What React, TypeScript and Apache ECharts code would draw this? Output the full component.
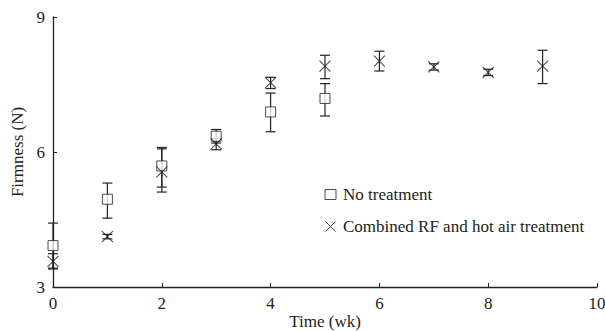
import React, { useEffect, useRef } from "react";
import * as echarts from "echarts";

const weeksNo = [0, 1, 2, 3, 4, 5];
const meanNo = [3.92, 4.95, 5.69, 6.35, 6.89, 7.19];
const lowNo = [3.42, 4.53, 5.22, 6.2, 6.45, 6.8];
const highNo = [4.42, 5.31, 6.1, 6.5, 7.31, 7.52];

const weeksRF = [0, 1, 2, 3, 4, 5, 6, 7, 8, 9];
const meanRF = [3.57, 4.12, 5.56, 6.18, 7.54, 7.91, 8.02, 7.89, 7.77, 7.91];
const lowRF = [3.4, 4.07, 5.11, 6.05, 7.41, 7.63, 7.8, 7.82, 7.7, 7.52];
const highRF = [3.74, 4.17, 6.07, 6.3, 7.66, 8.15, 8.24, 7.96, 7.84, 8.26];

const seriesNames = ["No treatment", "Combined RF and hot air treatment"];
const xTicks = [0, 2, 4, 6, 8, 10];
const yTicks = [3, 6, 9];

const FONT = "'Liberation Serif', 'Times New Roman', serif";
const INK = "#222";
const FS = 17;
const CROSS = "path://M0,0L10,10M10,0L0,10";

function errorBars(weeks: number[], low: number[], high: number[]) {
  return {
    type: "custom",
    silent: true,
    z: 1,
    data: weeks.map((w, i) => [w, low[i], high[i]]),
    renderItem: (_p: any, api: any) => {
      const lo = api.coord([api.value(0), api.value(1)]);
      const hi = api.coord([api.value(0), api.value(2)]);
      const cap = 5;
      const style = { stroke: INK, lineWidth: 1.2 };
      return {
        type: "group",
        children: [
          { type: "line", shape: { x1: lo[0], y1: lo[1], x2: hi[0], y2: hi[1] }, style },
          { type: "line", shape: { x1: lo[0] - cap, y1: lo[1], x2: lo[0] + cap, y2: lo[1] }, style },
          { type: "line", shape: { x1: hi[0] - cap, y1: hi[1], x2: hi[0] + cap, y2: hi[1] }, style },
        ],
      };
    },
  };
}

export default function App() {
  const ref = useRef<HTMLDivElement>(null);
  useEffect(() => {
    if (!ref.current) return;
    const chart = echarts.init(ref.current, undefined, { renderer: "svg" });
    chart.setOption({
      animation: false,
      backgroundColor: "#fff",
      textStyle: { fontFamily: FONT, color: INK },
      grid: { left: 53, right: 8, top: 17, bottom: 44, outerBoundsMode: "none", containLabel: false },
      legend: {
        orient: "vertical",
        left: 318,
        top: 181,
        itemGap: 15,
        itemWidth: 11,
        itemHeight: 10,
        textStyle: { fontFamily: FONT, fontSize: FS, color: INK, padding: [0, 0, 0, 2] },
        data: [
          { name: seriesNames[0], icon: "rect", itemStyle: { color: "#fff", borderColor: INK, borderWidth: 1 } },
          { name: seriesNames[1], icon: CROSS, itemStyle: { color: "none", borderColor: INK, borderWidth: 1 } },
        ],
      },
      xAxis: {
        type: "value",
        min: xTicks[0],
        max: xTicks[xTicks.length - 1],
        interval: 2,
        name: "Time (wk)",
        nameLocation: "middle",
        nameGap: 26,
        nameMoveOverlap: false,
        nameTextStyle: { fontFamily: FONT, fontSize: FS, color: INK },
        axisLine: { lineStyle: { color: INK, width: 1.3 } },
        axisTick: { inside: true, length: 4, lineStyle: { color: INK } },
        axisLabel: { fontFamily: FONT, fontSize: FS, color: INK, margin: 8 },
        splitLine: { show: false },
      },
      yAxis: {
        type: "value",
        min: yTicks[0],
        max: yTicks[yTicks.length - 1],
        interval: 3,
        name: "Firmness (N)",
        nameLocation: "middle",
        nameRotate: 90,
        nameGap: 27,
        nameMoveOverlap: false,
        nameTextStyle: { fontFamily: FONT, fontSize: FS, color: INK },
        axisLine: { show: true, lineStyle: { color: INK, width: 1.3 } },
        axisTick: { show: true, inside: true, length: 4, lineStyle: { color: INK } },
        axisLabel: { fontFamily: FONT, fontSize: FS, color: INK, margin: 8 },
        splitLine: { show: false },
      },
      series: [
        errorBars(weeksNo, lowNo, highNo),
        errorBars(weeksRF, lowRF, highRF),
        {
          name: seriesNames[0],
          type: "scatter",
          z: 3,
          symbol: "rect",
          symbolSize: 10,
          itemStyle: { color: "#fff", borderColor: INK, borderWidth: 1 },
          data: weeksNo.map((w, i) => [w, meanNo[i]]),
        },
        {
          name: seriesNames[1],
          type: "scatter",
          z: 4,
          symbol: CROSS,
          symbolSize: 11,
          itemStyle: { color: "none", borderColor: INK, borderWidth: 1.1 },
          data: weeksRF.map((w, i) => [w, meanRF[i]]),
        },
      ],
    });
    return () => chart.dispose();
  }, []);
  return <div ref={ref} style={{ width: 605, height: 331, position: "absolute", left: 0, top: 0 }} />;
}
